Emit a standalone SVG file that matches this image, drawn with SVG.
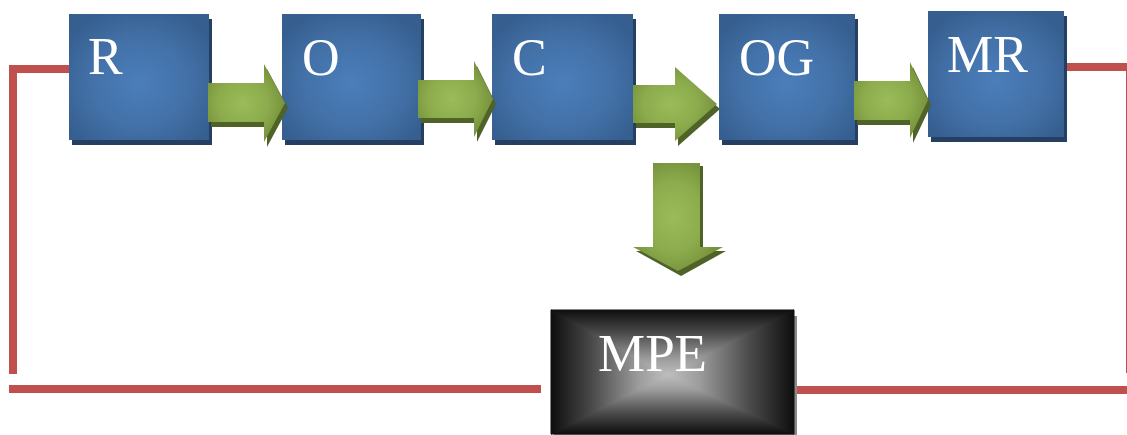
<svg xmlns="http://www.w3.org/2000/svg" width="1127" height="435" viewBox="0 0 1127 435">
<defs>
<radialGradient id="blueG" cx="0.5" cy="0.55" r="0.62">
<stop offset="0" stop-color="#4b7ebb"/>
<stop offset="0.55" stop-color="#4371a8"/>
<stop offset="1" stop-color="#365f90"/>
</radialGradient>
<radialGradient id="green" cx="0.45" cy="0.5" r="0.55">
<stop offset="0" stop-color="#9bbb59"/>
<stop offset="0.6" stop-color="#8cab4c"/>
<stop offset="1" stop-color="#76923c"/>
</radialGradient>
<linearGradient id="gT" x1="0" y1="310" x2="0" y2="375" gradientUnits="userSpaceOnUse">
<stop offset="0" stop-color="#0e0e0e"/><stop offset="0.35" stop-color="#4a4a4a"/><stop offset="0.75" stop-color="#9c9c9c"/><stop offset="1" stop-color="#bebebe"/>
</linearGradient>
<linearGradient id="gB" x1="0" y1="434" x2="0" y2="375" gradientUnits="userSpaceOnUse">
<stop offset="0" stop-color="#0e0e0e"/><stop offset="0.35" stop-color="#4a4a4a"/><stop offset="0.75" stop-color="#9c9c9c"/><stop offset="1" stop-color="#bebebe"/>
</linearGradient>
<linearGradient id="gL" x1="551" y1="0" x2="668" y2="0" gradientUnits="userSpaceOnUse">
<stop offset="0" stop-color="#0e0e0e"/><stop offset="0.35" stop-color="#4a4a4a"/><stop offset="0.75" stop-color="#9c9c9c"/><stop offset="1" stop-color="#bebebe"/>
</linearGradient>
<linearGradient id="gR" x1="794" y1="0" x2="668" y2="0" gradientUnits="userSpaceOnUse">
<stop offset="0" stop-color="#0e0e0e"/><stop offset="0.35" stop-color="#4a4a4a"/><stop offset="0.75" stop-color="#9c9c9c"/><stop offset="1" stop-color="#bebebe"/>
</linearGradient>
<style>
.box{fill:url(#blueG)}
.bsh{fill:#243f62}
.arr{fill:url(#green)}
.ash{fill:#4f6228}
.lbl{font-family:"Liberation Serif","Times New Roman",serif;font-size:52px;fill:#ffffff}
.red{fill:none;stroke:#c0504d;stroke-width:8}
</style>
</defs>

<g id="connectors">
<path class="red" d="M69,69 H13 V374"/>
<path class="red" d="M9,389 H541"/>
<path class="red" d="M1066,67 H1130 V373"/>
<path class="red" d="M794,390 H1127"/>
</g>

<g id="node-R">
<rect class="bsh" x="72" y="19" width="140" height="126"/>
<rect class="box" x="69" y="14" width="140" height="126"/>
<text class="lbl" x="88" y="74">R</text>
</g>
<g id="node-O">
<rect class="bsh" x="285" y="19" width="139" height="126"/>
<rect class="box" x="282" y="14" width="139" height="126"/>
<text class="lbl" x="302" y="75">O</text>
</g>
<g id="node-C">
<rect class="bsh" x="495" y="19" width="141" height="126"/>
<rect class="box" x="492" y="14" width="141" height="126"/>
<text class="lbl" x="512" y="75">C</text>
</g>
<g id="node-OG">
<rect class="bsh" x="722" y="19" width="136" height="126"/>
<rect class="box" x="719" y="14" width="136" height="126"/>
<text class="lbl" x="739" y="75">OG</text>
</g>
<g id="node-MR">
<rect class="bsh" x="931" y="16" width="136" height="126"/>
<rect class="box" x="928" y="11" width="136" height="126"/>
<text class="lbl" x="947" y="72">MR</text>
</g>
<g id="node-MPE">
<rect x="554" y="316" width="243" height="119" fill="#8a8a8a"/>
<rect x="551" y="310" width="243" height="124" fill="#555555"/>
<polygon points="551,310 794,310 668,375" fill="url(#gT)" stroke="url(#gT)" stroke-width="1"/>
<polygon points="551,434 794,434 668,375" fill="url(#gB)" stroke="url(#gB)" stroke-width="1"/>
<polygon points="551,310 668,375 551,434" fill="url(#gL)" stroke="url(#gL)" stroke-width="1"/>
<polygon points="794,310 668,375 794,434" fill="url(#gR)" stroke="url(#gR)" stroke-width="1"/>
<text class="lbl" x="598" y="371" style="font-size:53px">MPE</text>
</g>

<g id="arrows">
<g id="arrow-R-O">
<path class="ash" d="M211,88 H267 V69 L288,108 L267,147 V127 H211 Z"/>
<path class="arr" d="M208,83 H264 V64 L285,103 L264,142 V122 H208 Z"/>
</g>
<g id="arrow-O-C">
<path class="ash" d="M421,85 H477 V66 L496,104 L477,142 V123 H421 Z"/>
<path class="arr" d="M418,80 H474 V61 L493,99 L474,137 V118 H418 Z"/>
</g>
<g id="arrow-C-OG">
<path class="ash" d="M636,90 H678 V72 L720,109 L678,146 V128 H636 Z"/>
<path class="arr" d="M633,85 H675 V67 L717,104 L675,141 V123 H633 Z"/>
</g>
<g id="arrow-OG-MR">
<path class="ash" d="M857,86 H913 V67 L931,105 L913,143 V125 H857 Z"/>
<path class="arr" d="M854,81 H910 V62 L928,100 L910,138 V120 H854 Z"/>
</g>
<g id="arrow-down">
<path class="ash" d="M656,166 H703 V251 H726 L681,276 L636,251 H656 Z"/>
<path class="arr" d="M653,163 H700 V247 H723 L678,271 L633,247 H653 Z"/>
</g>
</g>
</svg>
